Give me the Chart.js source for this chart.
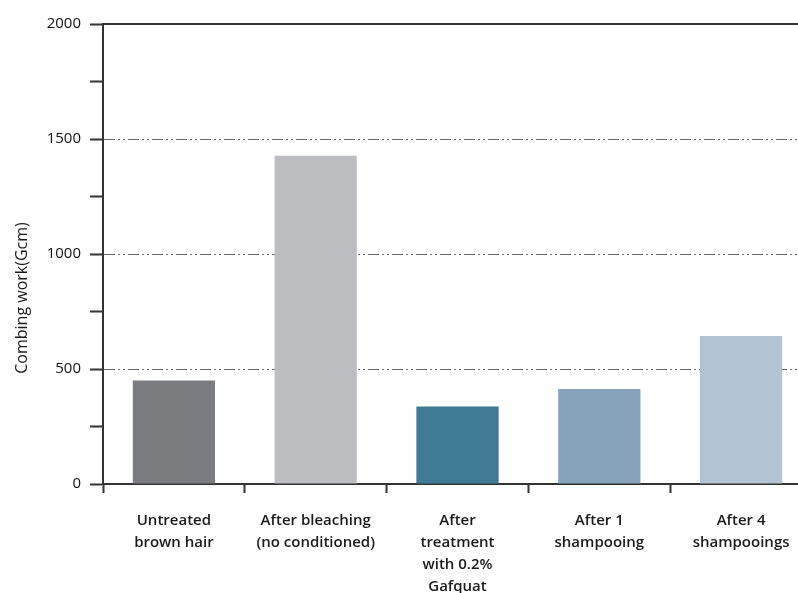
<!DOCTYPE html>
<html>
<head>
<meta charset="utf-8">
<script src="https://cdn.jsdelivr.net/npm/chart.js@4"></script>
<style>
  html, body { margin: 0; padding: 0; background: #fff; overflow: hidden; }
  #wrap { width: 812px; height: 593px; }
</style>
</head>
<body>
<div id="wrap"><canvas id="c" width="812" height="593"></canvas></div>
<script>
const categories = [
  ["Untreated", "brown hair"],
  ["After bleaching", "(no conditioned)"],
  ["After", "treatment", "with 0.2%", "Gafquat"],
  ["After 1", "shampooing"],
  ["After 4", "shampooings"]
];
const combingWork = [450, 1427, 337, 413, 643];
const barColors = ["#7b7c80", "#bcbdc1", "#3f7a97", "#86a3b9", "#b2c3d4"];
const yTickLabels = [0, 500, 1000, 1500, 2000];
const yTitle = "Combing work(Gcm)";

// Y-axis title placed slightly below the axis centre, as in the reference
const yTitlePlugin = {
  id: "yTitle",
  afterDraw(chart) {
    const ctx = chart.ctx;
    const y = chart.scales.y;
    const cy = (y.getPixelForValue(0) + y.getPixelForValue(2000)) / 2 + 44;
    ctx.save();
    ctx.translate(22, cy);
    ctx.rotate(-Math.PI / 2);
    ctx.fillStyle = "#1a1a1a";
    ctx.font = "16px 'Open Sans'";
    ctx.textAlign = "center";
    ctx.textBaseline = "middle";
    ctx.fillText(yTitle, 0, 0);
    ctx.restore();
  }
};

new Chart(document.getElementById("c"), {
  type: "bar",
  data: {
    labels: categories,
    datasets: [{
      data: combingWork,
      backgroundColor: barColors,
      borderWidth: 0,
      barPercentage: 0.58,
      categoryPercentage: 1.0
    }]
  },
  plugins: [yTitlePlugin],
  options: {
    responsive: false,
    animation: false,
    layout: { padding: { top: 24, left: 0, right: 0, bottom: 0 } },
    plugins: { legend: { display: false }, tooltip: { enabled: false } },
    scales: {
      x: {
        type: "category",
        position: "bottom",
        offset: true,
        grid: {
          offset: true,
          drawOnChartArea: false,
          drawTicks: true,
          tickLength: 9,
          tickColor: "#333",
          tickWidth: 2,
          color: "#333"
        },
        border: { display: true, color: "#333", width: 2 },
        ticks: {
          color: "#1a1a1a",
          padding: 17,
          maxRotation: 0,
          autoSkip: false,
          font: { family: "Open Sans", size: 15, weight: "600", lineHeight: 1.47 }
        },
        afterFit: s => { s.height = 109; }
      },
      x2: {
        type: "category",
        position: "top",
        labels: categories.map(() => ""),
        grid: { display: true, drawOnChartArea: false, drawTicks: false, color: "rgba(0,0,0,0)" },
        border: { display: true, color: "#333", width: 2 },
        ticks: { display: false },
        afterFit: s => { s.height = 0; }
      },
      y: {
        min: 0,
        max: 2000,
        ticks: {
          stepSize: 250,
          padding: 9,
          color: "#111",
          font: { family: "Open Sans", size: 15, weight: "500" },
          callback: v => yTickLabels.includes(v) ? String(v) : ""
        },
        grid: {
          drawOnChartArea: true,
          drawTicks: true,
          tickLength: 13,
          tickWidth: 2,
          tickColor: "#333",
          lineWidth: 1,
          color: ctx => {
            const v = ctx.tick ? ctx.tick.value : null;
            return (v === 500 || v === 1000 || v === 1500) ? "#666" : "rgba(0,0,0,0)";
          }
        },
        border: { display: true, color: "#333", width: 2, dash: [11, 3, 2, 3, 2, 3] },
        title: { display: false },
        afterFit: s => { s.width = 103; }
      }
    }
  }
});
</script>
</body>
</html>
